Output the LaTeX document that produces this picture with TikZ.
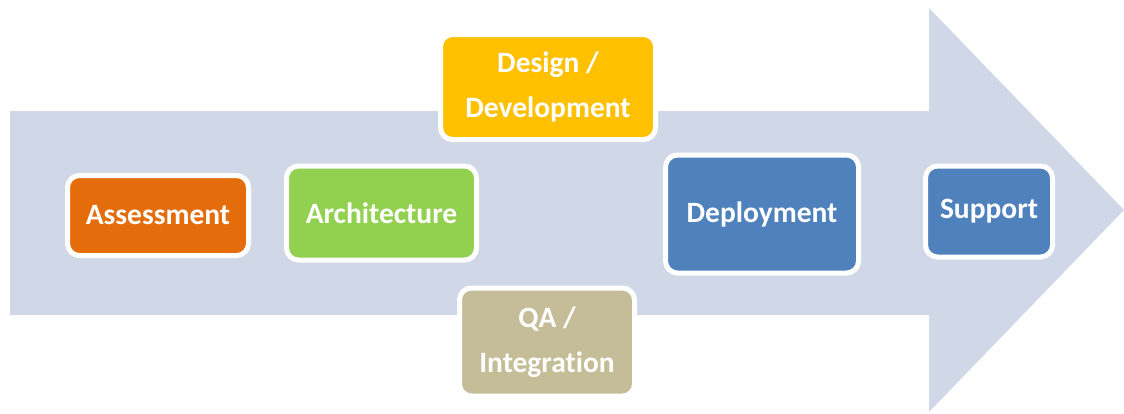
\documentclass[tikz,border=0pt]{standalone}
\usepackage{fontspec}
\setmainfont[Ligatures=CommonOff]{Carlito}
\definecolor{arrowgrey}{HTML}{D0D8E8}
\definecolor{orangebox}{HTML}{E46C0A}
\definecolor{greenbox}{HTML}{92D050}
\definecolor{yellowbox}{HTML}{FFC000}
\definecolor{tanbox}{HTML}{C4BD97}
\definecolor{bluebox}{HTML}{4F81BD}
\begin{document}
\begin{tikzpicture}[x=1pt, y=-1pt,
		phase/.style={draw=white, line width=5pt, rounded corners=12pt,
			text=white, align=center, inner sep=0pt,
			font=\fontsize{29.5}{45}\selectfont\bfseries}]
			\useasboundingbox (0,0) rectangle (1124,413);

			% big arrow in the background
			\fill [arrowgrey] (10,111) -- (929,111) -- (929,8) -- (1124,210)
				-- (929,412) -- (929,315) -- (10,315) -- cycle;

			\node [phase, fill=orangebox, minimum width=181pt, minimum height=80pt] (n_assessment) at (158,215.5) {Assessment};
			\node [phase, fill=greenbox, minimum width=190pt, minimum height=94pt] (n_architecture) at (381.5,213) {Architecture};
			\node [phase, fill=yellowbox, minimum width=215pt, minimum height=105pt] (n_design) at (548,87) {Design /\\Development};
			\node [phase, fill=tanbox, minimum width=175pt, minimum height=108pt] (n_qa) at (547,342) {QA /\\Integration};
			\node [phase, fill=bluebox, minimum width=193pt, minimum height=118pt] (n_deployment) at (762,214) {Deployment};
			\node [phase, fill=bluebox, minimum width=127pt, minimum height=91pt] (n_support) at (989,211.5) {Support};
		\end{tikzpicture}
\end{document}
